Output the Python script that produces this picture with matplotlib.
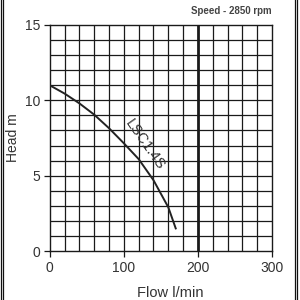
import matplotlib
matplotlib.use("Agg")
import matplotlib.pyplot as plt
from matplotlib.lines import Line2D
import numpy as np

plt.rcParams['font.family'] = ['Liberation Sans', 'DejaVu Sans']

flow = [0, 20, 40, 60, 80, 100, 120, 140, 160, 170]
head = [11.0, 10.45, 9.8, 9.05, 8.15, 7.15, 6.1, 4.7, 2.9, 1.5]
x_ticks = [0, 100, 200, 300]
y_ticks = [0, 5, 10, 15]
curve_label = "LSC1.4S"
speed_text = "Speed - 2850 rpm"

fig = plt.figure(figsize=(3, 3), dpi=100)
ax = fig.add_axes([0.1657, 0.1633, 0.907 - 0.1657, 0.9167 - 0.1633])
ax.set_xlim(0, 300)
ax.set_ylim(0, 15)

gc = '#1a1a1a'
for xv in np.arange(20, 300, 20):
    ax.axvline(xv, color=gc, lw=2.0 if xv == 200 else 0.9, zorder=1)
for yv in np.arange(1, 15, 1):
    ax.axhline(yv, color=gc, lw=0.9, zorder=1)

ax.plot(flow, head, color='#222222', lw=1.4, zorder=3)

ax.text(128.5, 7.05, curve_label, rotation=-55, ha='center', va='center',
        fontsize=10.5, color='#333333', zorder=4)

ax.set_xticks(x_ticks)
ax.set_yticks(y_ticks)
ax.tick_params(direction='out', length=4, width=0.9, colors='#1a1a1a',
               labelsize=10, labelcolor='#333333', pad=3)
for s in ax.spines.values():
    s.set_color('#1a1a1a')
    s.set_linewidth(1.0)

fig.text(0.043, 0.54, "Head m", rotation=90, ha='center', va='center',
         fontsize=10, color='#333333')
fig.text(0.567, 0.023, "Flow l/min", ha='center', va='center',
         fontsize=10.5, color='#333333')
fig.text(0.907, 0.963, speed_text, ha='right', va='center',
         fontsize=7, color='#444444', fontweight='bold')

for xp in [0.5, 3.2, 294.5, 297.2]:
    fig.add_artist(Line2D([xp / 300, xp / 300], [0, 1], transform=fig.transFigure,
                          color='#111111', lw=0.9))

fig.savefig("out.png", dpi=100)
